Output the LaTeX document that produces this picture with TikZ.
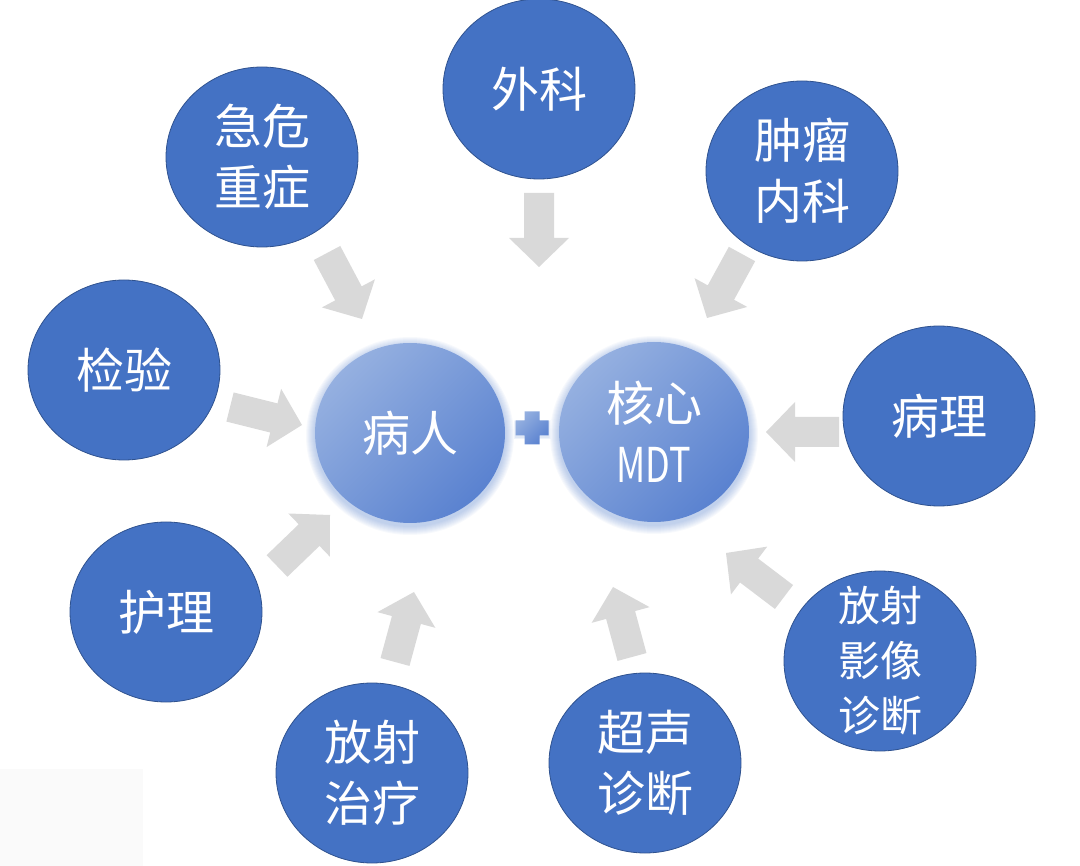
\documentclass[tikz,border=0pt]{standalone}
\usepackage{fontspec}
\usepackage{graphicx}
\setmainfont{Noto Sans CJK SC}
\usetikzlibrary{shapes.geometric,calc}
\definecolor{deptblue}{HTML}{4472C4}
\definecolor{deptline}{HTML}{2F528F}
\definecolor{arrowgray}{HTML}{D9D9D9}
\definecolor{coreLight}{HTML}{95B0E0}
\definecolor{coreDark}{HTML}{5A82D0}
\definecolor{paleBg}{HTML}{FAFAFA}
\tikzset{
  dept/.style={ellipse, fill=deptblue, draw=deptline, line width=0.8pt,
    minimum width=192pt, minimum height=180pt, inner sep=0pt},
  core/.style={ellipse, top color=coreLight, bottom color=coreDark, shading angle=45,
    minimum width=190pt, minimum height=180pt, inner sep=0pt},
  lab/.style={text=white, align=center, inner sep=0pt, font=\fontsize{48}{61}\selectfont},
  labsmall/.style={text=white, align=center, inner sep=0pt, font=\fontsize{42}{55}\selectfont},
  glow/.style={fill=deptblue, opacity=0.045}
}
\newcommand\blockarrow[2]{%
  \coordinate (#1-n) at ($(#2)!29pt!(#1)$);
  \fill[arrowgray] ($(#1)!15pt!90:(#2)$) -- ($(#1-n)!15pt!90:(#2)$) --
    ($(#1-n)!30pt!90:(#2)$) -- (#2) -- ($(#1-n)!30pt!-90:(#2)$) --
    ($(#1-n)!15pt!-90:(#2)$) -- ($(#1)!15pt!-90:(#2)$) -- cycle;
}
\begin{document}
\begin{tikzpicture}[x=1pt,y=-1pt]
\useasboundingbox (0,0) rectangle (1080,866);
\fill[paleBg] (0,769) rectangle (143,866);

% outer department circles
\node[dept] (wk) at (539,89) {};
\node[lab] at (wk) {外科};
\node[dept] (jw) at (262,157) {};
\node[lab] at (jw) {急危\\重症};
\node[dept] (zl) at (802,171) {};
\node[lab] at (zl) {肿瘤\\内科};
\node[dept] (jy) at (124,370) {};
\node[lab] at (jy) {检验};
\node[dept] (bl) at (939,416) {};
\node[lab] at (bl) {病理};
\node[dept] (hl) at (166,612) {};
\node[lab] at (hl) {护理};
\node[dept] (fz) at (372,773) {};
\node[lab] at (fz) {放射\\治疗};
\node[dept] (cs) at (645,763) {};
\node[lab] at (cs) {超声\\诊断};
\node[dept] (yx) at (880,661) {};
\node[labsmall] at (yx) {放射\\影像\\诊断};

% arrow coordinates
\coordinate (aWK) at (539,193);  \coordinate (tWK) at (539,267);
\coordinate (aJW) at (327,253);  \coordinate (tJW) at (362,319);
\coordinate (aZL) at (742,254);  \coordinate (tZL) at (707,318);
\coordinate (aJY) at (230,407);  \coordinate (tJY) at (302,425);
\coordinate (aBL) at (839,432);  \coordinate (tBL) at (766,432);
\coordinate (aHL) at (277,566);  \coordinate (tHL) at (330,515);
\coordinate (aFZ) at (395,662);  \coordinate (tFZ) at (414,592);
\coordinate (aCS) at (632,657);  \coordinate (tCS) at (613,587);
\coordinate (aYX) at (784,597);  \coordinate (tYX) at (726,553);
\blockarrow{aWK}{tWK}
\blockarrow{aJW}{tJW}
\blockarrow{aZL}{tZL}
\blockarrow{aJY}{tJY}
\blockarrow{aBL}{tBL}
\blockarrow{aHL}{tHL}
\blockarrow{aFZ}{tFZ}
\blockarrow{aCS}{tCS}
\blockarrow{aYX}{tYX}

% core circles with soft glow
\coordinate (pc) at (410,433);
\coordinate (mc) at (654,432);
\foreach \k in {1,...,9} {
  \fill[glow] ($(pc)+(0,3)$) ellipse ({95pt+\k pt} and {90pt+\k pt});
  \fill[glow] ($(mc)+(0,3)$) ellipse ({95pt+\k pt} and {90pt+\k pt});
}
\node[core] (patient) at (pc) {};
\node[lab] at (patient) {病人};
\node[core] (mdt) at (mc) {};
\node[lab] at (mdt) {核心\\\scalebox{0.75}[1]{MDT}};

% plus sign
\coordinate (plus) at (532,428);
\foreach \k in {1,...,4} {
  \fill[glow] ($(plus)+(-16.5-\k/2,-7.5-\k/2+2)$) rectangle ($(plus)+(16.5+\k/2,7.5+\k/2+2)$);
}
\shade[top color=coreLight, bottom color=coreDark, shading angle=45]
  ($(plus)+(-7.5,-16.5)$) -- ($(plus)+(7.5,-16.5)$) -- ($(plus)+(7.5,-7.5)$) --
  ($(plus)+(16.5,-7.5)$) -- ($(plus)+(16.5,7.5)$) -- ($(plus)+(7.5,7.5)$) --
  ($(plus)+(7.5,16.5)$) -- ($(plus)+(-7.5,16.5)$) -- ($(plus)+(-7.5,7.5)$) --
  ($(plus)+(-16.5,7.5)$) -- ($(plus)+(-16.5,-7.5)$) -- ($(plus)+(-7.5,-7.5)$) -- cycle;
\end{tikzpicture}
\end{document}
